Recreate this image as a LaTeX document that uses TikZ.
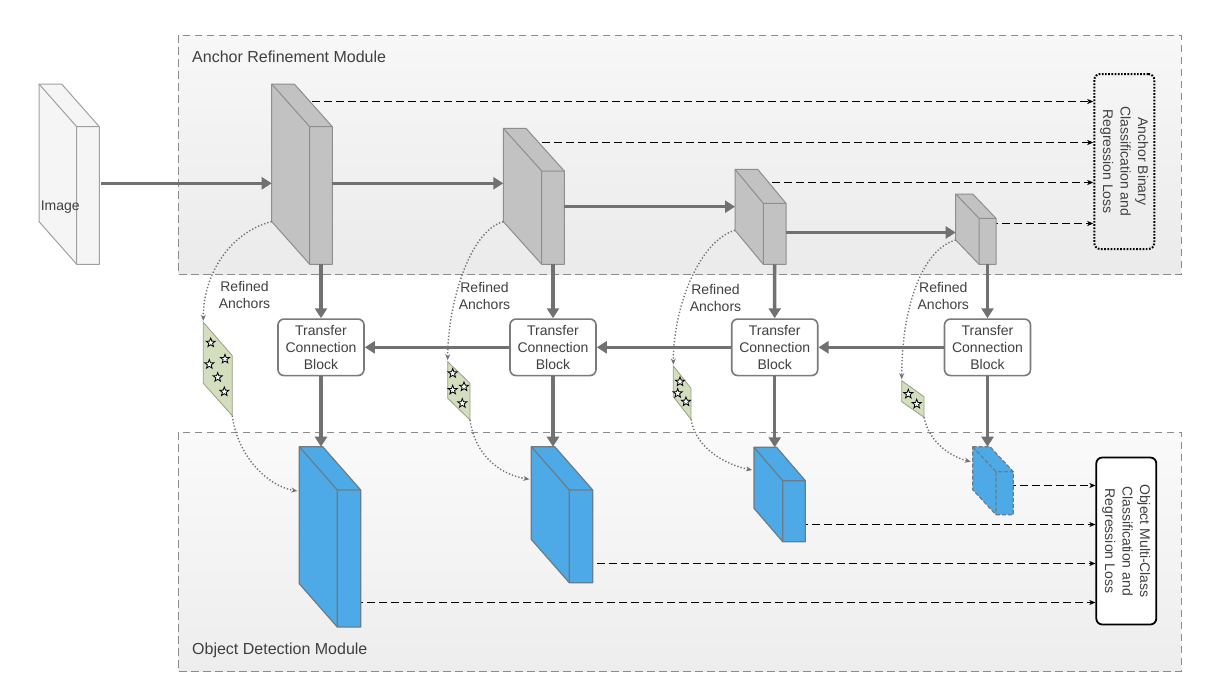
\documentclass[tikz,border=0pt]{standalone}
\usepackage{fontspec}
\setmainfont{Liberation Sans}
\usetikzlibrary{arrows.meta,shapes.geometric,calc}
\definecolor{arrowgray}{HTML}{717171}
\definecolor{blockgray}{HTML}{C2C2C2}
\definecolor{blockedge}{HTML}{8E8E8E}
\definecolor{blueface}{HTML}{4DAAE6}
\definecolor{blueedge}{HTML}{6A7C88}
\definecolor{anchorfill}{HTML}{D3DEBE}
\definecolor{anchoredge}{HTML}{979E86}
\definecolor{txt}{HTML}{404040}
\definecolor{modedge}{HTML}{8C8C8C}
\definecolor{imgfill}{HTML}{F5F5F5}
\definecolor{imgedge}{HTML}{A0A0A0}
\definecolor{tcbedge}{HTML}{7A7A7A}

% #1 name, #2 front-left x, #3 front-top y, #4 width, #5 height, #6 dx, #7 dy, #8 style
\newcommand\mycuboid[8]{%
  \path (#2,#3) coordinate (#1-ft)
        ({#2+#4},#3) coordinate (#1-fr)
        ({#2+#4},{#3+#5}) coordinate (#1-frb)
        (#2,{#3+#5}) coordinate (#1-fl)
        ({#2+#4/2},{#3+#5}) coordinate (#1-fb)
        ({#2+(#6)},{#3+(#7)}) coordinate (#1-bt)
        ({#2+#4+(#6)},{#3+(#7)}) coordinate (#1-btr)
        ({#2+(#6)},{#3+#5+(#7)}) coordinate (#1-bb);
  \draw[#8] (#1-bt) -- (#1-btr) -- (#1-fr) -- (#1-frb) -- (#1-fl) -- (#1-bb) -- cycle;
  \draw[#8, fill=none] (#1-bt) -- (#1-ft) -- (#1-fr) (#1-ft) -- (#1-fl);
}

\begin{document}
\begin{tikzpicture}[x=1pt,y=-1pt,
  thickarrow/.style={draw=arrowgray, line width=3.5pt, -{Triangle[length=10pt,width=12pt]}},
  lossarrow/.style={draw=black, line width=1.3pt, dash pattern=on 8pt off 4pt, -{Stealth[length=6pt,width=5pt,inset=1.5pt]}},
  refarrow/.style={draw=arrowgray, line width=1.4pt, dash pattern=on 1.3pt off 2pt, -{Stealth[length=6pt,width=5pt]}},
  graycube/.style={draw=blockedge, fill=blockgray, line width=1pt, line join=round},
  bluecube/.style={draw=blueedge, fill=blueface, line width=1.2pt, line join=round},
  imgcube/.style={draw=imgedge, fill=imgfill, line width=1pt, line join=round},
  anchorbox/.style={draw=anchoredge, fill=anchorfill, line width=0.8pt},
  anchorstar/.style={star, star points=5, star point ratio=2.4, minimum size=9.5pt, inner sep=0pt, draw=black, fill=white, line width=0.8pt},
  tcb/.style={draw=tcbedge, line width=1.6pt, rounded corners=6pt, fill=white, minimum width=86pt, minimum height=56.5pt, inner sep=0pt, align=center, text=txt, font=\fontsize{14}{17.3}\selectfont},
  lbl/.style={text=txt, align=center, font=\fontsize{14}{17}\selectfont},
  losslbl/.style={text=txt, align=center, font=\fontsize{14}{17.5}\selectfont},
  modlbl/.style={text=txt, anchor=west, font=\fontsize{16}{19}\selectfont, inner sep=0pt},
  modbox/.style={draw=modedge, line width=1pt, dash pattern=on 7.5pt off 4.5pt}
]
\useasboundingbox (0,0) rectangle (1216,683);

% module boxes
\shade[top color=white!97!black, bottom color=white!92!black] (178,35) rectangle (1181,274);
\draw[modbox] (178,35) rectangle (1181,274);
\shade[top color=white!98!black, bottom color=white!93!black] (178,432) rectangle (1181,671);
\draw[modbox] (178,432) rectangle (1181,671);
\node[modlbl] (arm) at (192,57) {Anchor Refinement Module};
\node[modlbl] (odm) at (192,650.7) {Object Detection Module};

% loss boxes
\node[draw=black, line width=2pt, dash pattern=on 1.7pt off 1.5pt, rounded corners=6pt, minimum width=60pt, minimum height=175pt, inner sep=0pt] (arml) at (1124.3,161.5) {};
\node[losslbl, rotate=-90] (armlt) at (arml.center) {Anchor Binary\\Classification and\\Regression Loss};
\node[draw=black, line width=1.8pt, rounded corners=6pt, fill=white, minimum width=60pt, minimum height=167pt, inner sep=0pt] (odml) at (1126.3,541) {};
\node[losslbl, rotate=-90] (odmlt) at (odml.center) {Object Multi-Class\\Classification and\\Regression Loss};

% dashed lines to loss boxes (drawn beneath the blocks)
\coordinate (d1) at (300,101.5);
\coordinate (d2) at (530,142.5);
\coordinate (d3) at (760,182.5);
\coordinate (d4) at (990,223.5);
\foreach \d in {d1,d2,d3,d4} \draw[lossarrow] (\d) -- (\d -| arml.west);
\coordinate (q1) at (355,602.5);
\coordinate (q2) at (585,563.5);
\coordinate (q3) at (800,524.5);
\coordinate (q4) at (1008,485.5);
\foreach \q in {q1,q2,q3,q4} \draw[lossarrow] (\q) -- (\q -| odml.west);

% image block
\mycuboid{im}{76.7}{126.7}{22.6}{137.6}{-37.7}{-42.7}{imgcube}
\node[lbl, inner sep=0pt] (imlbl) at (60.3,207) {Image};

% ARM blocks
\mycuboid{b1}{309.7}{126.7}{22.6}{137.6}{-38}{-42.7}{graycube}
\mycuboid{b2}{541.7}{171}{22.6}{93.3}{-38.4}{-42.7}{graycube}
\mycuboid{b3}{763.3}{203.3}{22.7}{61}{-28.3}{-34}{graycube}
\mycuboid{b4}{979}{218.3}{17}{46}{-23.3}{-24.3}{graycube}

% ODM blocks
\mycuboid{o1}{337.3}{490}{23.4}{137}{-38}{-43.3}{bluecube}
\mycuboid{o2}{569.3}{490}{23.4}{92.7}{-38}{-43.3}{bluecube}
\mycuboid{o3}{782.7}{480.7}{22.6}{61}{-28.7}{-33.4}{bluecube}
\mycuboid{o4}{996}{471.7}{17.3}{43}{-23.3}{-25}{bluecube, dash pattern=on 4pt off 2pt}

% refined anchors (parallelograms)
\draw[anchorbox] (203.3,322.3) coordinate (p1t) -- (232.3,355.7) -- (232.3,415.7) coordinate (p1b) -- (203.3,383.3) -- cycle;
\draw[anchorbox] (447.7,361.7) coordinate (p2t) -- (470,383.3) -- (470,420) coordinate (p2b) -- (447.7,398.3) -- cycle;
\draw[anchorbox] (673.3,366) coordinate (p3t) -- (691,388.3) -- (691,419.3) coordinate (p3b) -- (673.3,396.7) -- cycle;
\draw[anchorbox] (901.7,380.7) coordinate (p4t) -- (924,396.7) -- (924,417.3) coordinate (p4b) -- (901.7,401.7) -- cycle;

\node[anchorstar] (s1a) at (210.7,342.7) {};
\node[anchorstar] (s1b) at (225,359) {};
\node[anchorstar] (s1c) at (209.3,364.3) {};
\node[anchorstar] (s1d) at (217.7,377.3) {};
\node[anchorstar] (s1e) at (224.3,391.7) {};
\node[anchorstar] (s2a) at (452.7,373.3) {};
\node[anchorstar] (s2b) at (464,386.7) {};
\node[anchorstar] (s2c) at (452.7,390) {};
\node[anchorstar] (s2d) at (462.3,403.3) {};
\node[anchorstar] (s3a) at (680,381.7) {};
\node[anchorstar] (s3b) at (677.7,393.3) {};
\node[anchorstar] (s3c) at (686,401.7) {};
\node[anchorstar] (s4a) at (908.3,394) {};
\node[anchorstar] (s4b) at (916.7,404) {};

\node[lbl] (r1) at (244.5,295) {Refined\\Anchors};
\node[lbl] (r2) at (484.5,296) {Refined\\Anchors};
\node[lbl] (r3) at (715.5,297.5) {Refined\\Anchors};
\node[lbl] (r4) at (943.3,295.7) {Refined\\Anchors};

% dotted refined-anchor curves
\draw[refarrow, shorten >=1.5pt] (b1-bb) .. controls +(-40,10) and +(0,-50) .. (p1t);
\draw[refarrow] (p1b) .. controls +(5,40) and +(-30,-5) .. ($(o1-bt)+(-2,44.3)$);
\draw[refarrow, shorten >=1.5pt] (b2-bb) .. controls +(-35,10) and +(0,-55) .. (p2t);
\draw[refarrow] (p2b) .. controls +(5,35) and +(-30,-5) .. ($(o2-bt)+(-2,32.6)$);
\draw[refarrow, shorten >=1.5pt] (b3-bb) .. controls +(-35,10) and +(0,-60) .. (p3t);
\draw[refarrow] (p3b) .. controls +(5,30) and +(-25,-5) .. ($(o3-bt)+(-2,22.7)$);
\draw[refarrow, shorten >=1.5pt] (b4-bb) .. controls +(-35,10) and +(0,-70) .. (p4t);
\draw[refarrow] (p4b) .. controls +(5,25) and +(-20,-5) .. ($(o4-bt)+(-2,15)$);

% transfer connection blocks
\node[tcb] (t1) at (321,347.3) {Transfer\\Connection\\Block};
\node[tcb] (t2) at (553,347.3) {Transfer\\Connection\\Block};
\node[tcb] (t3) at (774.7,347.3) {Transfer\\Connection\\Block};
\node[tcb] (t4) at (987.5,347.3) {Transfer\\Connection\\Block};

% thick arrows in ARM
\coordinate (a0) at (101,183.3);
\coordinate (a2) at (600,206.7);
\coordinate (a3) at (850,232.5);
\draw[thickarrow] (a0) -- (a0 -| b1-bt);
\draw[thickarrow] (b1-fr |- a0) -- (a0 -| b2-bt);
\draw[thickarrow] (b2-fr |- a2) -- (a2 -| b3-bt);
\draw[thickarrow] (b3-fr |- a3) -- (a3 -| b4-bt);

% ARM -> TCB
\draw[thickarrow] (b1-fb) -- (t1.north);
\draw[thickarrow] (b2-fb) -- (t2.north);
\draw[thickarrow] (b3-fb) -- (t3.north);
\draw[thickarrow] (b4-fb) -- (t4.north);

% TCB chain
\draw[thickarrow] (t4.west) -- (t3.east);
\draw[thickarrow] (t3.west) -- (t2.east);
\draw[thickarrow] (t2.west) -- (t1.east);

% TCB -> ODM
\draw[thickarrow] (t1.south) -- (t1.south |- o1-bt);
\draw[thickarrow] (t2.south) -- (t2.south |- o2-bt);
\draw[thickarrow] (t3.south) -- (t3.south |- o3-bt);
\draw[thickarrow] (t4.south) -- (t4.south |- o4-bt);
\end{tikzpicture}
\end{document}
